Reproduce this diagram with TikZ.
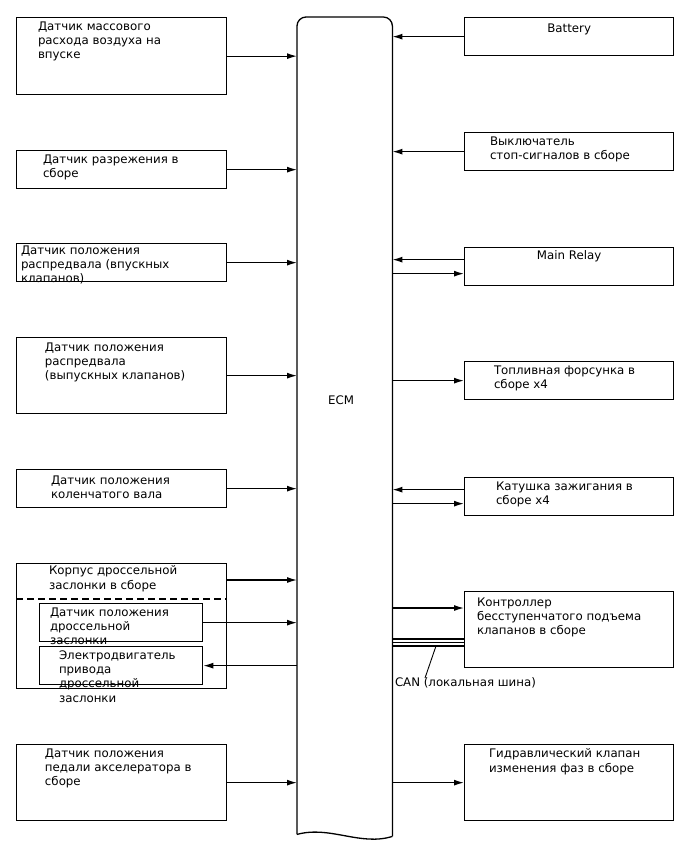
\documentclass[tikz,border=0pt]{standalone}
\usepackage{fontspec}
\setmainfont{DejaVu Sans}
\usetikzlibrary{arrows.meta, positioning}

\begin{document}
\begin{tikzpicture}[
    x=1pt, y=-1pt,
    font=\fontsize{11.8}{14.1}\selectfont,
    % Box Styles
    unit/.style={
        rectangle, draw=black, line width=1.3pt, inner sep=0pt,
        minimum width=210pt, anchor=north west
    },
    shortBox/.style={unit, minimum height=38pt},
    tallBox/.style={unit, minimum height=77pt},
    partBox/.style={unit, minimum width=163pt, minimum height=38pt},
    % Text Style
    txt/.style={inner sep=0pt, outer sep=0pt, align=left},
    % Arrow Style
    myArrow/.style={-{Latex[length=10pt, width=6pt]}, line width=1.3pt},
    canLine/.style={line width=1.3pt}
]
    \useasboundingbox (0,0) rectangle (688,852);

    % --- ECM ---
    \node[draw=none, inner sep=0pt, minimum width=95pt, minimum height=817pt, anchor=north west] (ecm) at (297,17) {};
    \draw[line width=1.3pt, rounded corners=9pt] (ecm.south west) -- (ecm.north west) -- (ecm.north east) -- ([yshift=-2pt]ecm.south east);
    \draw[line width=1.3pt] ([yshift=-2pt]ecm.south east) .. controls +(-32,10) and +(33,-9) .. (ecm.south west);
    \node[txt] (ecmText) at (341,400) {ECM};

    % --- INPUTS (LEFT) ---
    \node[tallBox] (maf) at (16,17) {};
    \node[txt, below right=5pt and 22pt of maf.north west] (mafText) {Датчик массового\\расхода воздуха на\\впуске};

    \node[shortBox] (map) at (16,150) {};
    \node[txt, below right=5pt and 27pt of map.north west] (mapText) {Датчик разрежения в\\сборе};

    \node[shortBox] (camin) at (16,243) {};
    \node[txt, below right=3pt and 5pt of camin.north west] (caminText) {Датчик положения\\распредвала (впускных\\клапанов)};

    \node[unit, minimum height=76pt] (camex) at (16,337) {};
    \node[txt, below right=6pt and 29pt of camex.north west] (camexText) {Датчик положения\\распредвала\\(выпускных клапанов)};

    \node[shortBox] (crank) at (16,469) {};
    \node[txt, below right=7pt and 35pt of crank.north west] (crankText) {Датчик положения\\коленчатого вала};

    % Throttle body with its parts
    \node[unit, minimum height=125pt] (thr) at (16,563) {};
    \node[txt, below right=3pt and 33pt of thr.north west] (thrText) {Корпус дроссельной\\заслонки в сборе};
    \draw[line width=1.3pt, dash pattern=on 7pt off 4pt] ([yshift=-36pt]thr.north west) -- ([yshift=-36pt]thr.north east);
    \node[partBox] (tps) at (39,603) {};
    \node[txt, below right=5pt and 11pt of tps.north west] (tpsText) {Датчик положения\\дроссельной\\заслонки};
    \node[partBox] (motor) at (39,646) {};
    \node[txt, below right=5pt and 20pt of motor.north west] (motorText) {Электродвигатель\\привода\\дроссельной\\заслонки};

    \node[unit, minimum height=76pt] (pedal) at (16,744) {};
    \node[txt, below right=5pt and 29pt of pedal.north west] (pedalText) {Датчик положения\\педали акселератора в\\сборе};

    % --- OUTPUTS (RIGHT) ---
    \node[shortBox, minimum width=209pt] (bat) at (464,17) {};
    \node[txt, below=7pt of bat.north] (batText) {Battery};

    \node[shortBox, minimum width=209pt] (brake) at (464,132) {};
    \node[txt, below right=5pt and 26pt of brake.north west] (brakeText) {Выключатель\\стоп-сигналов в сборе};

    \node[shortBox, minimum width=209pt] (relay) at (464,247) {};
    \node[txt, below=4pt of relay.north] (relayText) {Main Relay};

    \node[shortBox, minimum width=209pt] (inj) at (464,361) {};
    \node[txt, below right=5pt and 30pt of inj.north west] (injText) {Топливная форсунка в\\сборе x4};

    \node[shortBox, minimum width=209pt] (coil) at (464,477) {};
    \node[txt, below right=5pt and 32pt of coil.north west] (coilText) {Катушка зажигания в\\сборе x4};

    \node[unit, minimum width=209pt, minimum height=76pt] (vvl) at (464,591) {};
    \node[txt, below right=7pt and 13pt of vvl.north west] (vvlText) {Контроллер\\бесступенчатого подъема\\клапанов в сборе};

    \node[unit, minimum width=209pt, minimum height=76pt] (ocv) at (464,744) {};
    \node[txt, below right=5pt and 25pt of ocv.north west] (ocvText) {Гидравлический клапан\\изменения фаз в сборе};

    \node[txt, anchor=north west] (can) at (395,678) {CAN (локальная шина)};

    % --- ARROWS ---
    \foreach \n in {maf, map, camin, camex, crank, tps, pedal} {
        \draw[myArrow] (\n.east) -- (\n.east -| ecm.west);
    }
    \draw[myArrow] ([yshift=-17pt]thr.north east) -- ([yshift=-17pt]thr.north east -| ecm.west);
    \draw[myArrow] (motor.east -| ecm.west) -- (motor.east);

    \foreach \n in {bat, brake} {
        \draw[myArrow] (\n.west) -- (\n.west -| ecm.east);
    }
    \foreach \n in {relay, coil} {
        \draw[myArrow] ([yshift=7pt]\n.west) -- ([yshift=7pt]\n.west -| ecm.east);
        \draw[myArrow] ([yshift=-7pt]\n.west -| ecm.east) -- ([yshift=-7pt]\n.west);
    }
    \foreach \n in {inj, ocv} {
        \draw[myArrow] (\n.west -| ecm.east) -- (\n.west);
    }
    \draw[myArrow] ([yshift=-17pt]vvl.north west -| ecm.east) -- ([yshift=-17pt]vvl.north west);

    % CAN bus
    \draw[canLine, line width=2.4pt] ([yshift=-48pt]vvl.north west -| ecm.east) -- ([yshift=-48pt]vvl.north west);
    \draw[canLine] ([yshift=-51.5pt]vvl.north west -| ecm.east) -- ([yshift=-51.5pt]vvl.north west);
    \draw[canLine] ([yshift=-55pt]vvl.north west -| ecm.east) -- ([yshift=-55pt]vvl.north west);
    \draw[line width=0.9pt] ([xshift=-28pt, yshift=-55pt]vvl.north west) -- ([xshift=30pt]can.north west);

\end{tikzpicture}
\end{document}
